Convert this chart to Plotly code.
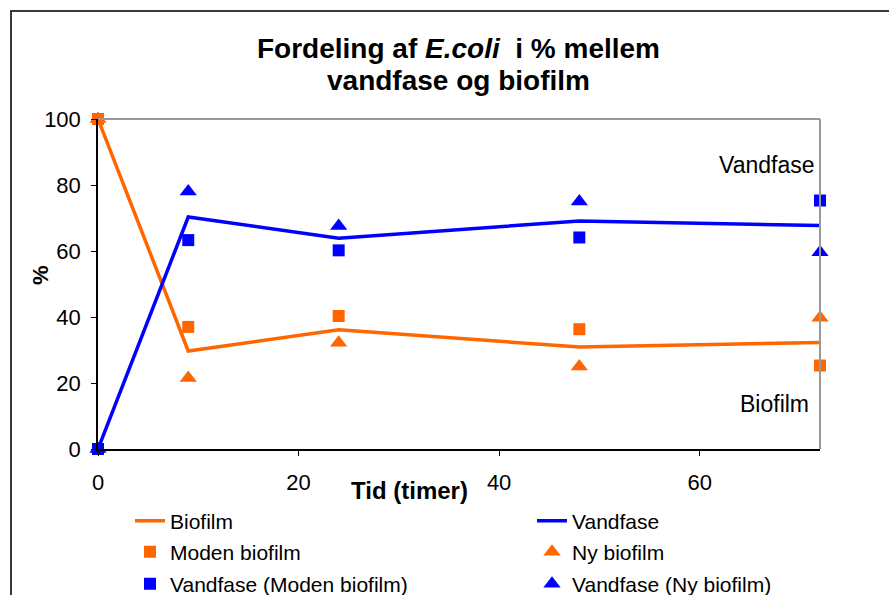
import plotly.graph_objects as go

# ---- data ----
time = [0, 9, 24, 48, 72]
biofilm = [100, 29.7, 36.1, 30.9, 32.3]
vandfase = [0, 70.3, 63.9, 69.1, 67.7]
moden_biofilm = [100, 37.0, 40.3, 36.3, 25.3]
ny_biofilm = [100, 21.5, 32.2, 25.0, 39.8]
vandfase_moden = [0, 63.3, 60.2, 64.1, 75.3]
vandfase_ny = [0, 78.0, 67.6, 75.0, 59.6]

x_ticks = [0, 20, 40, 60]
y_ticks = [0, 20, 40, 60, 80, 100]

ORANGE = "#FF6600"
BLUE = "#0000FF"
FONT = "Liberation Sans, Arial, sans-serif"

W, H = 889, 595
L, R, T, B = 98, 69, 119, 146
PW, PH = W - L - R, H - T - B


def px(xp):
    return (xp - L) / PW


def py(yp):
    return (H - B - yp) / PH


fig = go.Figure()
fig.add_trace(go.Scatter(x=time, y=biofilm, mode="lines", name="Biofilm",
                         line=dict(color=ORANGE, width=3.5), legend="legend"))
fig.add_trace(go.Scatter(x=time, y=vandfase, mode="lines", name="Vandfase",
                         line=dict(color=BLUE, width=3.5), legend="legend2"))
fig.add_trace(go.Scatter(x=time, y=moden_biofilm, mode="markers", name="Moden biofilm",
                         marker=dict(symbol="square", size=12, color=ORANGE), legend="legend3"))
fig.add_trace(go.Scatter(x=time, y=ny_biofilm, mode="markers", name="Ny biofilm",
                         marker=dict(symbol="triangle-up", size=15, color=ORANGE), legend="legend4"))
fig.add_trace(go.Scatter(x=time, y=vandfase_moden, mode="markers", name="Vandfase (Moden biofilm)",
                         marker=dict(symbol="square", size=12, color=BLUE), legend="legend5"))
fig.add_trace(go.Scatter(x=time, y=vandfase_ny, mode="markers", name="Vandfase (Ny biofilm)",
                         marker=dict(symbol="triangle-up", size=15, color=BLUE), legend="legend6"))
fig.update_traces(cliponaxis=False)

legend_common = dict(orientation="v", xref="container", yref="container",
                     xanchor="left", yanchor="middle",
                     font=dict(family=FONT, size=21, color="black"), bgcolor="rgba(0,0,0,0)",
                     borderwidth=0)
col1, col2 = 130 / W, 532 / W
row1, row2, row3 = 1 - 521 / H, 1 - 552 / H, 1 - 584 / H

fig.update_layout(
    width=W, height=H,
    margin=dict(l=L, r=R, t=T, b=B, autoexpand=False),
    paper_bgcolor="white", plot_bgcolor="white",
    showlegend=True,
    legend=dict(x=col1, y=row1, **legend_common),
    legend2=dict(x=col2, y=row1, **legend_common),
    legend3=dict(x=col1, y=row2, **legend_common),
    legend4=dict(x=col2, y=row2, **legend_common),
    legend5=dict(x=col1, y=row3, **legend_common),
    legend6=dict(x=col2, y=row3, **legend_common),
    font=dict(family=FONT, size=22, color="black"),
    xaxis=dict(range=[0, 72], tickvals=x_ticks, ticktext=[str(v) for v in x_ticks],
               showgrid=False, zeroline=False, showline=True, linecolor="black", linewidth=1.5,
               ticks="outside", ticklen=5, tickcolor="black", ticklabelstandoff=8,
               tickfont=dict(family=FONT, size=22, color="black")),
    yaxis=dict(range=[0, 100], tickvals=y_ticks, ticktext=[str(v) for v in y_ticks],
               showgrid=False, zeroline=False, showline=True, linecolor="black", linewidth=1.5,
               ticks="outside", ticklen=5, tickcolor="black", ticklabelstandoff=6,
               tickfont=dict(family=FONT, size=22, color="black")),
    shapes=[
        dict(type="line", xref="paper", yref="paper", x0=0, x1=1, y0=1, y1=1,
             line=dict(color="#999999", width=2)),
        dict(type="line", xref="paper", yref="paper", x0=1, x1=1, y0=0, y1=1,
             line=dict(color="#999999", width=2)),
        dict(type="path", xref="paper", yref="paper",
             path=f"M {px(11)} {py(620)} L {px(11)} {py(11)} L {px(920)} {py(11)}",
             line=dict(color="#3a3a3a", width=2)),
    ],
    annotations=[
        dict(text="Fordeling af <i>E.coli</i>  i % mellem", xref="paper", yref="paper",
             x=px(458), y=py(48), xanchor="center", yanchor="middle", showarrow=False,
             font=dict(family=FONT, size=28, color="black", weight="bold")),
        dict(text="vandfase og biofilm", xref="paper", yref="paper",
             x=px(458), y=py(81), xanchor="center", yanchor="middle", showarrow=False,
             font=dict(family=FONT, size=28, color="black", weight="bold")),
        dict(text="Tid (timer)", xref="paper", yref="paper",
             x=px(409), y=py(490), xanchor="center", yanchor="middle", showarrow=False,
             font=dict(family=FONT, size=24, color="black", weight="bold")),
        dict(text="%", xref="paper", yref="paper", textangle=-90,
             x=px(40), y=py(275), xanchor="center", yanchor="middle", showarrow=False,
             font=dict(family=FONT, size=22, color="black", weight="bold")),
        dict(text="Vandfase", xref="paper", yref="paper",
             x=px(816), y=py(165), xanchor="right", yanchor="middle", showarrow=False,
             font=dict(family=FONT, size=23, color="black")),
        dict(text="Biofilm", xref="paper", yref="paper",
             x=px(811), y=py(404), xanchor="right", yanchor="middle", showarrow=False,
             font=dict(family=FONT, size=23, color="black")),
    ],
)

fig.write_html("out.html")
